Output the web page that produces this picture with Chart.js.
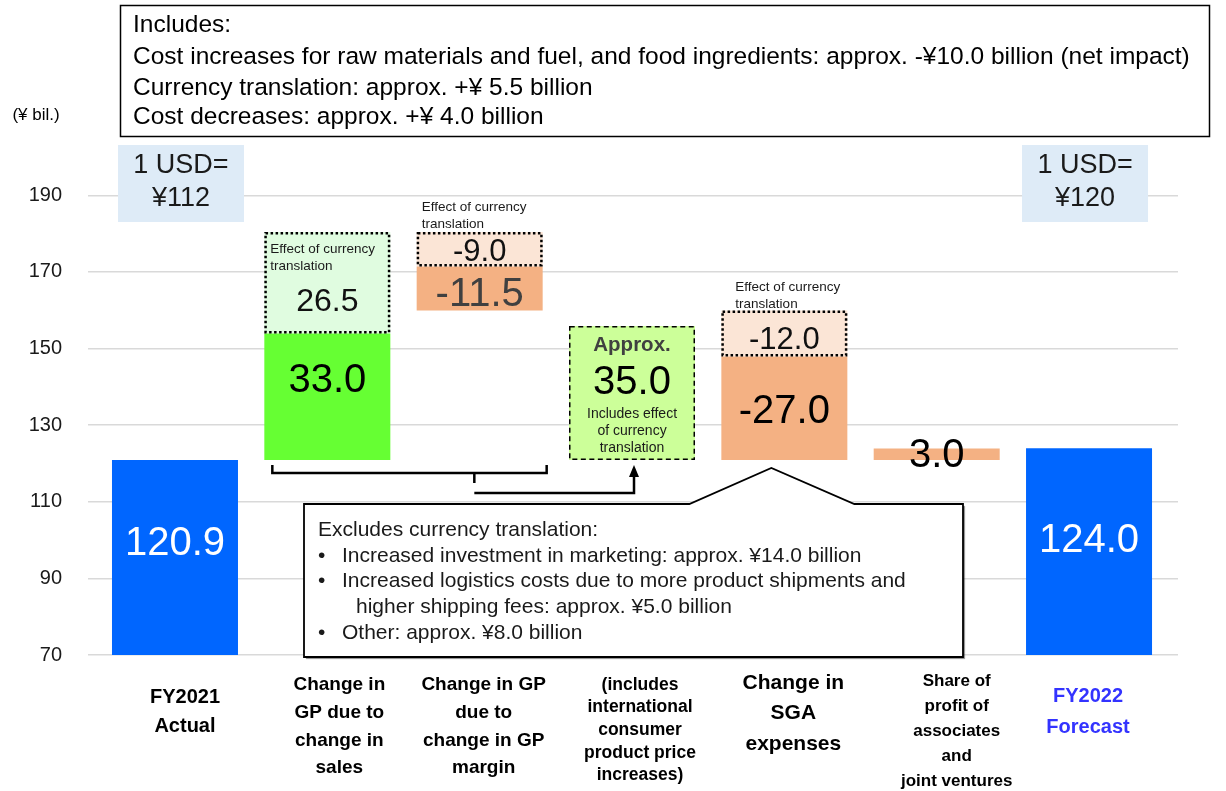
<!DOCTYPE html>
<html>
<head>
<meta charset="utf-8">
<script src="https://cdn.jsdelivr.net/npm/chart.js@4.4.1/dist/chart.umd.min.js"></script>
<style>
  body { margin: 0; background: #fff; }
  #chart { display: block; }
</style>
</head>
<body>
<canvas id="chart" width="1226" height="791"></canvas>
<script>
// categories along the bottom, one array of lines per bar
const categories = [
  ['FY2021', 'Actual'],
  ['Change in', 'GP due to', 'change in', 'sales'],
  ['Change in GP', 'due to', 'change in GP', 'margin'],
  ['(includes', 'international', 'consumer', 'product price', 'increases)'],
  ['Change in', 'SGA', 'expenses'],
  ['Share of', 'profit of', 'associates', 'and', 'joint ventures'],
  ['FY2022', 'Forecast']
];
const yTicks = [70, 90, 110, 130, 150, 170, 190];

// operating profit bridge, ¥ bil.
const totals = [120.9, null, null, null, null, null, 124.0];
const changes = [null, 33.0, -11.5, null, -27.0, 3.0, null];
const currencyEffects = [null, 26.5, -9.0, null, -12.0, null, null];
const priceIncrease = [null, null, null, 35.0, null, null, null];

const usdRates = [['1 USD=', '¥112'], ['1 USD=', '¥120']];
const noteLines = [
  'Includes:',
  'Cost increases for raw materials and fuel, and food ingredients: approx. -¥10.0 billion (net impact)',
  'Currency translation: approx. +¥ 5.5 billion',
  'Cost decreases: approx. +¥ 4.0 billion'
];
const calloutTitle = 'Excludes currency translation:';
const calloutItems = [
  ['Increased investment in marketing: approx. ¥14.0 billion'],
  ['Increased logistics costs due to more product shipments and', 'higher shipping fees: approx. ¥5.0 billion'],
  ['Other: approx. ¥8.0 billion']
];

// fill colours per category for the step bars
const stepColors = [null, '#66ff33', '#f4b183', null, '#f4b183', '#f4b183', null];
const effectColors = [null, '#e0fce0', '#fbe5d6', null, '#fbe5d6', null, null];

const FONT = '"Liberation Sans", Arial, sans-serif';
const font = (size, bold) => (bold ? 'bold ' : '') + size + 'px ' + FONT;

// build floating bars: positive steps go solid then currency, negative steps the other way round
const totalBars = [];
totals.forEach((v, i) => { if (v != null) totalBars.push({ x: i, y: v, v: v }); });

const changeBars = [];
const effectBars = [];
let running = totals[0];
changes.forEach((chg, i) => {
  if (chg == null) return;
  const eff = currencyEffects[i];
  const addChange = () => { changeBars.push({ x: i, y: [running, running + chg], v: chg }); running += chg; };
  const addEffect = () => {
    if (eff == null) return;
    effectBars.push({ x: i, y: [running, running + eff], v: eff });
    running += eff;
  };
  if (chg >= 0) { addChange(); addEffect(); } else { addEffect(); addChange(); }
});

const priceBars = [];
priceIncrease.forEach((v, i) => { if (v != null) priceBars.push({ x: i, y: [totals[0], totals[0] + v], v: v }); });

// label tweaks per category index
const labelDy = {
  totals: { 0: -14, 6: -11 },
  changes: { 1: -16, 2: 6, 4: 4, 5: 2 },
  effects: { 1: 19, 2: 3, 4: 7 },
  price: { 3: -10 }
};

// draws dotted / dashed outlines round the bars that need them
const outlinePlugin = {
  id: 'outlines',
  afterDatasetsDraw(chart) {
    const ctx = chart.ctx;
    chart.data.datasets.forEach((ds, di) => {
      if (!ds.outlineDash) return;
      chart.getDatasetMeta(di).data.forEach(bar => {
        const p = bar.getProps(['x', 'y', 'base', 'width'], true);
        const top = Math.min(p.y, p.base);
        const h = Math.abs(p.base - p.y);
        ctx.save();
        ctx.strokeStyle = '#000';
        ctx.lineWidth = ds.outlineWidth;
        ctx.setLineDash(ds.outlineDash);
        ctx.strokeRect(p.x - p.width / 2 + ds.outlineWidth / 2, top + ds.outlineWidth / 2,
          p.width - ds.outlineWidth, h - ds.outlineWidth);
        ctx.restore();
      });
    });
  }
};

// value labels on the bars (bars from the axis floor are clipped at the chart bottom)
const valuePlugin = {
  id: 'values',
  afterDatasetsDraw(chart) {
    const ctx = chart.ctx;
    const bottom = chart.chartArea.bottom;
    chart.data.datasets.forEach((ds, di) => {
      const st = ds.valueLabel;
      if (!st) return;
      chart.getDatasetMeta(di).data.forEach((bar, j) => {
        const raw = ds.data[j];
        const p = bar.getProps(['x', 'y', 'base'], true);
        const y0 = Math.min(p.y, bottom);
        const y1 = Math.min(p.base, bottom);
        const dy = (labelDy[st.key] || {})[raw.x] || 0;
        ctx.save();
        ctx.font = font(typeof st.size === 'function' ? st.size(raw) : st.size);
        ctx.fillStyle = typeof st.color === 'function' ? st.color(raw) : st.color;
        ctx.textAlign = 'center';
        ctx.textBaseline = 'middle';
        ctx.fillText(raw.v.toFixed(1), p.x, (y0 + y1) / 2 + dy);
        ctx.restore();
      });
    });
  }
};

function multiline(ctx, lines, x, y, gap) {
  lines.forEach((t, k) => ctx.fillText(t, x, y + k * gap));
}

// notes, brackets, callout and the category labels
const notesPlugin = {
  id: 'notes',
  afterDraw(chart) {
    const ctx = chart.ctx;
    const xs = chart.scales.x;
    const ys = chart.scales.y;
    const half = 63;
    ctx.save();
    ctx.textBaseline = 'middle';

    // unit
    ctx.fillStyle = '#000';
    ctx.font = font(17);
    ctx.textAlign = 'center';
    ctx.fillText('(¥ bil.)', 36, 115);

    // top note box
    ctx.lineWidth = 1.5;
    ctx.strokeStyle = '#000';
    ctx.fillStyle = '#fff';
    ctx.fillRect(120, 5, 1090, 132);
    ctx.strokeRect(120.5, 5.5, 1089, 131);
    ctx.fillStyle = '#000';
    ctx.font = font(24.5);
    ctx.textAlign = 'left';
    [25, 57, 88, 117].forEach((yy, k) => ctx.fillText(noteLines[k], 133, yy));

    // exchange rate boxes
    [[0, 6], [6, -4]].forEach(([idx, dx], k) => {
      const cx = xs.getPixelForValue(idx) + dx;
      ctx.fillStyle = '#deebf7';
      ctx.fillRect(cx - half, 145, 126, 77);
      ctx.fillStyle = '#1a1a1a';
      ctx.font = font(27);
      ctx.textAlign = 'center';
      multiline(ctx, usdRates[k], cx, 166, 33);
    });

    // currency translation notes beside the dotted boxes
    ctx.font = font(13.5);
    ctx.textAlign = 'left';
    ctx.fillStyle = '#1a1a1a';
    const notePos = { 1: [6, 17], 2: [5, -25], 4: [14, -23] };
    effectBars.forEach(b => {
      const pos = notePos[b.x];
      if (!pos) return;
      const left = xs.getPixelForValue(b.x) - half;
      const top = ys.getPixelForValue(Math.max(b.y[0], b.y[1]));
      multiline(ctx, ['Effect of currency', 'translation'], left + pos[0], top + pos[1], 17);
    });

    // price increase box captions
    priceBars.forEach(b => {
      const cx = xs.getPixelForValue(b.x);
      const top = ys.getPixelForValue(b.y[1]);
      ctx.textAlign = 'center';
      ctx.fillStyle = '#404040';
      ctx.font = font(20.5, true);
      ctx.fillText('Approx.', cx, top + 19);
      ctx.fillStyle = '#1a1a1a';
      ctx.font = font(14);
      multiline(ctx, ['Includes effect', 'of currency', 'translation'], cx, top + 88, 17);
    });

    // bracket under the two GP bars with arrow into the price box
    const baseY = ys.getPixelForValue(totals[0]) + 5;
    const bl = xs.getPixelForValue(1) - half + 8;
    const br = xs.getPixelForValue(2) + half + 4;
    const tick = bl + 202;
    const ax = xs.getPixelForValue(3) + 2;
    ctx.strokeStyle = '#000';
    ctx.lineWidth = 2.5;
    ctx.beginPath();
    ctx.moveTo(bl, baseY);
    ctx.lineTo(bl, baseY + 8);
    ctx.lineTo(br, baseY + 8);
    ctx.lineTo(br, baseY);
    ctx.moveTo(tick, baseY + 8);
    ctx.lineTo(tick, baseY + 18);
    ctx.moveTo(tick, baseY + 28);
    ctx.lineTo(ax, baseY + 28);
    ctx.lineTo(ax, baseY + 10);
    ctx.stroke();
    ctx.fillStyle = '#000';
    ctx.beginPath();
    ctx.moveTo(ax, baseY);
    ctx.lineTo(ax - 5, baseY + 12);
    ctx.lineTo(ax + 5, baseY + 12);
    ctx.closePath();
    ctx.fill();

    // SGA callout
    const peakX = xs.getPixelForValue(4) - 13;
    const cl = 304, cr = 963, ct = 504, cb = 657;
    ctx.save();
    ctx.shadowColor = 'rgba(0,0,0,0.45)';
    ctx.shadowOffsetX = 2;
    ctx.shadowOffsetY = 2;
    ctx.shadowBlur = 1;
    ctx.beginPath();
    ctx.moveTo(cl, ct);
    ctx.lineTo(peakX - 82, ct);
    ctx.lineTo(peakX, 468);
    ctx.lineTo(peakX + 83, ct);
    ctx.lineTo(cr, ct);
    ctx.lineTo(cr, cb);
    ctx.lineTo(cl, cb);
    ctx.closePath();
    ctx.fillStyle = '#fff';
    ctx.fill();
    ctx.restore();
    ctx.lineWidth = 1.8;
    ctx.strokeStyle = '#000';
    ctx.stroke();

    ctx.fillStyle = '#1a1a1a';
    ctx.font = font(21);
    ctx.textAlign = 'left';
    ctx.fillText(calloutTitle, 318, 530);
    let ly = 556;
    calloutItems.forEach(item => {
      ctx.fillText('•', 318, ly);
      item.forEach((t, k) => {
        ctx.fillText(t, k === 0 ? 342 : 356, ly);
        ly += 25.6;
      });
    });

    // category labels
    const catStyle = [
      { dx: 10, top: 697, gap: 29, size: 20, color: '#000' },
      { dx: 12, top: 685, gap: 27.7, size: 19, color: '#000' },
      { dx: 4, top: 685, gap: 27.7, size: 19, color: '#000' },
      { dx: 8, top: 685, gap: 22.6, size: 17.5, color: '#000' },
      { dx: 9, top: 683, gap: 30.5, size: 21, color: '#000' },
      { dx: 20, top: 681, gap: 25, size: 17, color: '#000' },
      { dx: -1, top: 696, gap: 31, size: 20, color: '#3333ff' }
    ];
    ctx.textAlign = 'center';
    categories.forEach((lines, i) => {
      const s = catStyle[i];
      ctx.font = font(s.size, true);
      ctx.fillStyle = s.color;
      multiline(ctx, lines, xs.getPixelForValue(i) + s.dx, s.top, s.gap);
    });
    ctx.restore();
  }
};

new Chart(document.getElementById('chart'), {
  type: 'bar',
  data: {
    datasets: [
      {
        data: totalBars,
        backgroundColor: '#0066ff',
        valueLabel: { key: 'totals', color: '#fff', size: 40 }
      },
      {
        data: changeBars,
        backgroundColor: ctx => (ctx.raw ? stepColors[ctx.raw.x] : '#f4b183'),
        valueLabel: { key: 'changes', color: r => (r.x === 2 ? '#404040' : '#000'), size: 40 }
      },
      {
        data: effectBars,
        backgroundColor: ctx => (ctx.raw ? effectColors[ctx.raw.x] : '#fbe5d6'),
        outlineDash: [2.5, 2.5],
        outlineWidth: 2.5,
        valueLabel: { key: 'effects', color: '#111', size: r => (r.x === 1 ? 32 : 31) }
      },
      {
        data: priceBars,
        backgroundColor: '#ccff99',
        outlineDash: [5, 3.5],
        outlineWidth: 1.5,
        valueLabel: { key: 'price', color: '#000', size: 40 }
      }
    ]
  },
  options: {
    responsive: false,
    animation: false,
    devicePixelRatio: 1,
    layout: { padding: { top: 157, right: 48, bottom: 136, left: 0 } },
    datasets: { bar: { grouped: false, categoryPercentage: 1, barPercentage: 0.83, maxBarThickness: 126 } },
    plugins: { legend: { display: false }, tooltip: { enabled: false } },
    scales: {
      x: {
        type: 'linear',
        display: false,
        offset: false,
        min: -0.571,
        max: 6.584,
        ticks: { stepSize: 1, includeBounds: false }
      },
      y: {
        min: 70,
        max: 200,
        afterBuildTicks: scale => { scale.ticks = yTicks.map(v => ({ value: v })); },
        afterFit: scale => { scale.width = 88; },
        border: { display: false },
        grid: { color: '#d9d9d9', lineWidth: 1.5, drawTicks: false },
        ticks: { font: { family: FONT, size: 20 }, color: '#1a1a1a', padding: 26 }
      }
    }
  },
  plugins: [outlinePlugin, valuePlugin, notesPlugin]
});
</script>
</body>
</html>
